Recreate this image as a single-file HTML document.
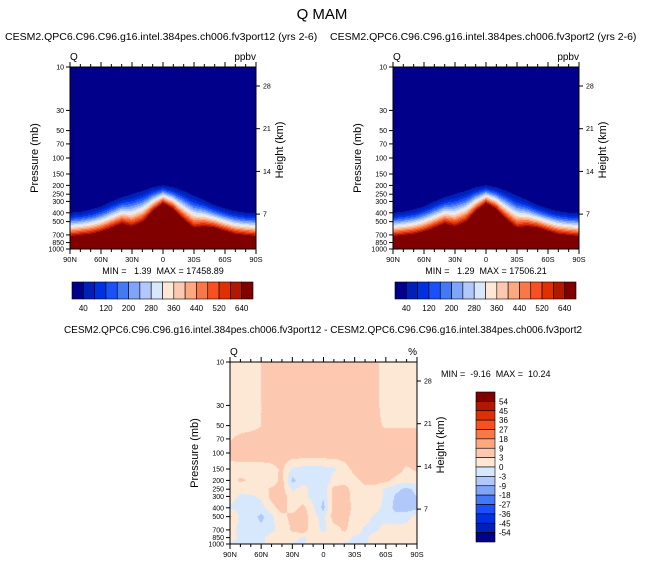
<!DOCTYPE html>
<html><head><meta charset="utf-8">
<style>
body{margin:0;background:#fff;}
#wrap{position:relative;width:645px;height:565px;overflow:hidden;font-family:"Liberation Sans",sans-serif;}
svg{position:absolute;left:0;top:0;}
svg text{white-space:pre;}
canvas{position:absolute;}
</style></head>
<body>
<div id="wrap">
<canvas id="c1" width="186" height="182" style="left:70px;top:67px"></canvas>
<canvas id="c2" width="186" height="182" style="left:393px;top:67px"></canvas>
<canvas id="c3" width="187" height="182" style="left:230px;top:362px"></canvas>
<svg id="svg" width="645" height="565"></svg>
</div>
<script>
// ---- data ----
const lats = [90,80,70,60,50,40,30,20,10,0,-10,-20,-30,-40,-50,-60,-70,-80,-90];
const topEdgeP1 = [400,390,370,340,300,270,250,230,210,200,210,230,260,290,330,360,385,400,400];
const redEdgeP1 = [720,700,680,640,580,520,560,500,380,310,360,470,580,560,580,630,680,700,720];
const topEdgeP2 = [400,390,370,340,300,270,250,230,210,200,210,230,260,290,330,360,385,400,400];
const redEdgeP2 = [720,700,680,640,580,520,560,500,380,310,360,470,580,560,580,630,680,700,720];
const diffLevels = [10,20,30,50,70,100,150,200,250,300,400,500,700,850,1000];
const diffValues = [
[1.5,1.5,1.5,3,5,5,5,5,5,5,5,5,5,5,4,1.5,1.5,1.5,1.5],
[1.5,1.5,1.5,3,5,5,5,5,5,5,5,5,5,5,4,1.5,1.5,1.5,1.5],
[1.5,1.5,1.5,3,5,5,5,5,5,5,5,5,5,5,4,1.5,1.5,1.5,1.5],
[1.5,1.5,1.5,3,5,5,5,5,5,5,5,5,5,5,4,2.5,2.5,2.5,2.5],
[2.8,4,5,5,5,5,5,5,5,5,5,5,5,5,5,5,5,5,5],
[4.5,5,5,5,5,5,5,5,5,5,5,5,5,5,5,5,5,5,5],
[1.5,1.5,1.5,1.5,2,3.5,-0.5,-1,-1,-1,-0.5,1.5,4,5,5,5,4.5,2.5,3.5],
[2,3.5,2.5,1.5,1.5,4,-4,-1,-1,-2,1,1.5,2,4,4,4,2,1.5,1.5],
[1,1,1.5,2,3.5,4,-0.5,1,-1,-2,4,4.5,1.5,2,2,-0.5,-2,-4,-2],
[1,-0.5,-0.5,0.5,4,4.5,1.5,1,-1,-2.5,4.5,5,1.5,1.5,1.5,-0.5,-3.5,-5,-3],
[-0.5,-1,-1,-1,2,4.5,1.5,4,0.5,-4,4.5,5,2,1.5,1,-1,-4,-5,-4],
[3.5,-1,-1.5,-4,-0.5,2,4,5,1,-1,4.5,4.5,1.5,1,-0.5,-1,-2,-1,1],
[1,-1,-1.5,-2,-0.5,1,3.5,5,1,-0.5,1.5,3.5,1.5,-0.5,-0.5,1,1.5,1,1],
[1,-0.5,-0.5,-0.5,1,1.5,1.5,-0.5,1,1,1.5,1.5,-0.5,-0.5,1,1,1.5,1,1],
[-0.5,-0.5,-0.5,-0.5,1,1,-0.5,-0.5,1,1,1,-0.5,-0.5,-0.5,1,1,1,1,-0.5]
];
const topBarLabels = ["40","120","200","280","360","440","520","640"];
const topBarLabelIdx = [1,3,5,7,9,11,13,15];
const diffBarBounds = [54,45,36,27,18,9,3,0,-3,-9,-18,-27,-36,-45,-54];
const pLabels = [10,30,50,70,100,150,200,250,300,400,500,700,850,1000];
const hLabels = [28,21,14,7];
const latTicks = [90,60,30,0,-30,-60,-90];
const latLabels = ["90N","60N","30N","0","30S","60S","90S"];

const pal = ["#00008a","#0020b8","#0030e0","#1a50fa","#4478f5","#80a4f7","#b0c8fa","#d8e8fc","#fde8d6","#fcc8b0","#fca880","#fa7848","#f85020","#e03000","#b01800","#800000"];

// ---- helpers ----
function interpLat(arr, lat){
  const f=(90-lat)/10; const i=Math.min(17,Math.floor(f)); const t=f-i;
  return arr[i]*(1-t)+arr[i+1]*t;
}
function makeY(top,h){return p=> top+(Math.log10(p)-1)/2*h;}
function drawField(id, topE, redE){
  const c=document.getElementById(id), ctx=c.getContext('2d');
  const W=c.width,H=c.height;
  for(let x=0;x<W;x++){
    const lat=90-(x+0.5)/W*180;
    const lt=Math.log10(interpLat(topE,lat)), lr=Math.log10(interpLat(redE,lat));
    for(let y=0;y<H;y++){
      const lp=1+(y+0.5)/H*2;
      let t=(lp-lt)/(lr-lt), b;
      if(t<0)b=0; else if(t>=1)b=15; else b=1+Math.floor(14*Math.pow(t,1.3));
      ctx.fillStyle=pal[b]; ctx.fillRect(x,y,1,1);
    }
  }
}
drawField('c1',topEdgeP1,redEdgeP1);
drawField('c2',topEdgeP2,redEdgeP2);
(function(){
  const c=document.getElementById('c3'),ctx=c.getContext('2d');const W=c.width,H=c.height;
  const ly=diffLevels.map(p=>Math.log10(p));
  function cls(v){ if(v>=9)return 10; if(v>=3)return 9; if(v>=0)return 8; if(v>=-3)return 7; if(v>=-9)return 6; return 5;}
  for(let x=0;x<W;x++){
    const f=x/(W-1)*18; const i=Math.min(17,Math.floor(f)); const tx=f-i;
    for(let y=0;y<H;y++){
      const lp=1+(y+0.5)/H*2; let j=0; while(j<13&&ly[j+1]<lp)j++;
      const ty=Math.max(0,Math.min(1,(lp-ly[j])/(ly[j+1]-ly[j])));
      const v=(diffValues[j][i]*(1-tx)+diffValues[j][i+1]*tx)*(1-ty)+(diffValues[j+1][i]*(1-tx)+diffValues[j+1][i+1]*tx)*ty;
      ctx.fillStyle=pal[cls(v)]; ctx.fillRect(x,y,1,1);
    }
  }
})();

const svg=document.getElementById('svg'); const NS='http://www.w3.org/2000/svg';
function el(tag,attrs,txt){const e=document.createElementNS(NS,tag);for(const k in attrs)e.setAttribute(k,attrs[k]);if(txt!==undefined)e.textContent=txt;svg.appendChild(e);return e;}
function txt(x,y,s,size,anchor,name,extra){const e=el('text',Object.assign({x:x,y:y,'font-size':size,'text-anchor':anchor||'start',fill:'#000'},extra||{}),s);
  
  return e;}

function axes(L,T,W,H,prefix,unit){
  const Y=makeY(T,H); const X=lat=>L+(90-lat)/180*W;
  const f=el('rect',{x:L,y:T,width:W,height:H,fill:'none',stroke:'#000','stroke-width':1});
  
  
  for(let lat=90;lat>=-90;lat-=10){
    const maj=lat%30===0, len=maj?5:3;
    el('line',{x1:X(lat),x2:X(lat),y1:T,y2:T-len,stroke:'#000'});
    el('line',{x1:X(lat),x2:X(lat),y1:T+H,y2:T+H+len,stroke:'#000'});
  }
  latTicks.forEach((lat,k)=>txt(X(lat),T+H+13,latLabels[k],7.5,'middle',prefix+'-lat-label'));
  pLabels.forEach(p=>{el('line',{x1:L,x2:L-4,y1:Y(p),y2:Y(p),stroke:'#000'});
    txt(L-6,Y(p)+2.5,String(p),7,'end',prefix+'-pressure-label');});
  const hy=h=>T+19+(28-h)/7*42.7*(H/182);
  hLabels.forEach(h=>{el('line',{x1:L+W,x2:L+W+4,y1:hy(h),y2:hy(h),stroke:'#000'});
    txt(L+W+7,hy(h)+2.5,String(h),7,'start',prefix+'-height-label');});
  txt(L-32,T+H/2,'Pressure (mb)',11,'middle',prefix+'-y-axis-title',{transform:`rotate(-90 ${L-32} ${T+H/2})`});
  txt(L+W+27,T+H/2-8,'Height (km)',11,'middle',prefix+'-right-axis-title',{transform:`rotate(-90 ${L+W+27} ${T+H/2-8})`});
  txt(L,T-7,'Q',10,'start',prefix+'-variable-label');
  txt(L+W,T-7,unit,10,'end',prefix+'-unit-label');
}
txt(322,19,'Q MAM',15,'middle','figure-title');
txt(5,40,'CESM2.QPC6.C96.C96.g16.intel.384pes.ch006.fv3port12 (yrs 2-6)',10.5,'start','left-panel-title');
txt(330,40,'CESM2.QPC6.C96.C96.g16.intel.384pes.ch006.fv3port2 (yrs 2-6)',10.5,'start','right-panel-title');
axes(70,67,186,182,'left','ppbv');
axes(393,67,186,182,'right','ppbv');
txt(163,274,'MIN =   1.39  MAX = 17458.89',9,'middle','left-min-max');
txt(486,274,'MIN =   1.29  MAX = 17506.21',9,'middle','right-min-max');
function hbar(L,prefix){
  const T=282,W=181,H=17,bw=W/16;
  pal.forEach((c,i)=>{const r=el('rect',{x:L+i*bw,y:T,width:bw,height:H,fill:c,stroke:'#000','stroke-width':0.6});
    
    });
  topBarLabels.forEach((s,k)=>txt(L+topBarLabelIdx[k]*bw,T+H+12,s,8,'middle',prefix+'-colorbar-label'));
}
hbar(72,'left'); hbar(395,'right');
txt(323,333,'CESM2.QPC6.C96.C96.g16.intel.384pes.ch006.fv3port12 - CESM2.QPC6.C96.C96.g16.intel.384pes.ch006.fv3port2',10,'middle','diff-panel-title');
axes(230,362,187,182,'diff','%');
txt(441,377,'MIN =  -9.16  MAX =  10.24',9,'start','diff-min-max');
(function(){
  const L=476,T=392,W=19,H=150,bh=H/16;
  for(let i=0;i<16;i++){const r=el('rect',{x:L,y:T+i*bh,width:W,height:bh,fill:pal[15-i],stroke:'#000','stroke-width':0.6});
    
    }
  diffBarBounds.forEach((v,k)=>txt(L+W+4,T+(k+1)*bh+3,String(v),8,'start','diff-colorbar-label'));
})();
</script>
</body></html>
